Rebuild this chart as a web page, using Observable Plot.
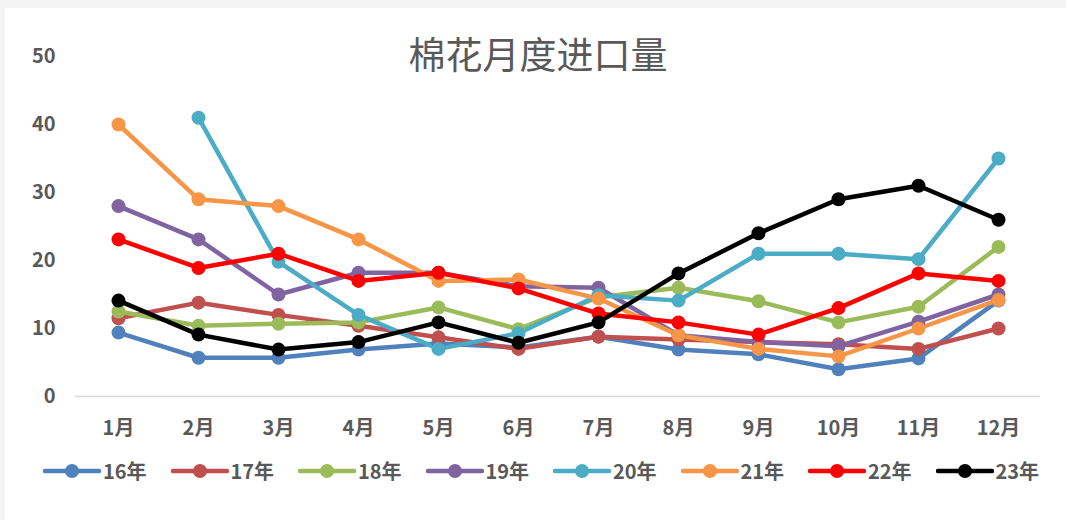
<!DOCTYPE html>
<html>
<head>
<meta charset="utf-8">
<script src="https://cdn.jsdelivr.net/npm/d3@7"></script>
<script src="https://cdn.jsdelivr.net/npm/@observablehq/plot@0.6"></script>
<style>
  body { margin: 0; background: #f3f3f3; width: 1066px; height: 520px; overflow: hidden; }
  #card { position: absolute; left: 5px; top: 8px; width: 1061px; height: 512px; background: #fff; }
  #title { position: absolute; left: 0; width: 1066px; top: 26px; text-align: center;
           font: 400 37px "Noto Sans CJK SC", sans-serif; color: #595959; margin-left: 5px; }
  #chart { position: absolute; left: 0; top: 0; }
  #legend { position: absolute; top: 448px; left: 38px; display: flex;
            font: 700 20px "Noto Sans CJK SC", sans-serif; color: #595959; }
  .item { width: 127.5px; display: flex; align-items: center; }
  .item svg { margin-right: 2px; }
</style>
</head>
<body>
<div id="card">
  <div id="chart"></div>
  <div id="legend"></div>
</div>
<div id="title">棉花月度进口量</div>
<script>
const months = ["1月", "2月", "3月", "4月", "5月", "6月", "7月", "8月", "9月", "10月", "11月", "12月"];
const years = ["16年", "17年", "18年", "19年", "20年", "21年", "22年", "23年"];
const colors = ["#4f81bd", "#c0504d", "#9bbb59", "#8064a2", "#4bacc6", "#f79646", "#ff0000", "#000000"];

const y16 = [9.4, 5.7, 5.7, 6.9, 7.8, 7.2, 8.8, 6.9, 6.2, 4.0, 5.6, 14.1];
const y17 = [11.5, 13.8, 12.0, 10.4, 8.7, 7.0, 8.8, 8.4, 8.0, 7.7, 7.0, 10.0];
const y18 = [12.5, 10.4, 10.7, 10.9, 13.1, 9.9, 14.6, 16.0, 14.0, 10.9, 13.2, 22.0];
const y19 = [28.0, 23.1, 15.0, 18.2, 18.2, 16.2, 16.0, 9.0, 8.0, 7.4, 11.0, 15.0];
const y20 = [null, 41.0, 19.8, 12.0, 7.0, 9.3, 14.9, 14.1, 21.0, 21.0, 20.2, 35.0];
const y21 = [40.0, 29.0, 28.0, 23.1, 17.0, 17.2, 14.4, 9.0, 7.0, 5.9, 10.0, 14.2];
const y22 = [23.1, 18.9, 21.0, 17.0, 18.2, 15.9, 12.2, 10.9, 9.1, 13.0, 18.1, 17.0];
const y23 = [14.1, 9.1, 6.9, 8.0, 10.9, 7.9, 10.9, 18.1, 24.0, 29.0, 31.0, 26.0];

const series = [y16, y17, y18, y19, y20, y21, y22, y23];

// long table: one row per year x month
const data = years.flatMap((yr, i) =>
  months.map((m, j) => ({year: yr, month: m, value: series[i][j]}))
);

const chart = Plot.plot({
  width: 1061,
  height: 442,
  marginLeft: 70,
  marginRight: 26,
  marginTop: 48,
  marginBottom: 54,
  style: {fontFamily: "'Noto Sans CJK SC', sans-serif", fontSize: "17px", color: "#595959", background: "transparent"},
  x: {type: "point", domain: months, padding: 0.5, label: null},
  y: {domain: [0, 50], label: null},
  color: {domain: years, range: colors},
  marks: [
    Plot.axisY({ticks: [0, 10, 20, 30, 40, 50], tickSize: 0, tickPadding: 20, fontWeight: "bold", fontSize: 20, label: null}),
    Plot.axisX({tickSize: 0, tickPadding: 24, fontWeight: "bold", fontSize: 20, label: null}),
    Plot.ruleY([0], {stroke: "#d9d9d9", strokeWidth: 1.5}),
    Plot.line(data, {x: "month", y: "value", z: "year", stroke: "year", strokeWidth: 4.5, strokeLinejoin: "round"}),
    Plot.dot(data.filter(d => d.value != null), {x: "month", y: "value", fill: "year", r: 7})
  ]
});
d3.select("#chart").append(() => chart);

// legend with line + dot swatches
const leg = d3.select("#legend");
years.forEach((yr, i) => {
  const it = leg.append("div").attr("class", "item");
  const sw = it.append("svg").attr("width", 58).attr("height", 18);
  sw.append("line").attr("x1", 2).attr("x2", 56).attr("y1", 9).attr("y2", 9)
    .attr("stroke", colors[i]).attr("stroke-width", 4.5).attr("stroke-linecap", "round");
  sw.append("circle").attr("cx", 29).attr("cy", 9).attr("r", 7).attr("fill", colors[i]);
  it.append("span").text(yr);
});
</script>
</body>
</html>
